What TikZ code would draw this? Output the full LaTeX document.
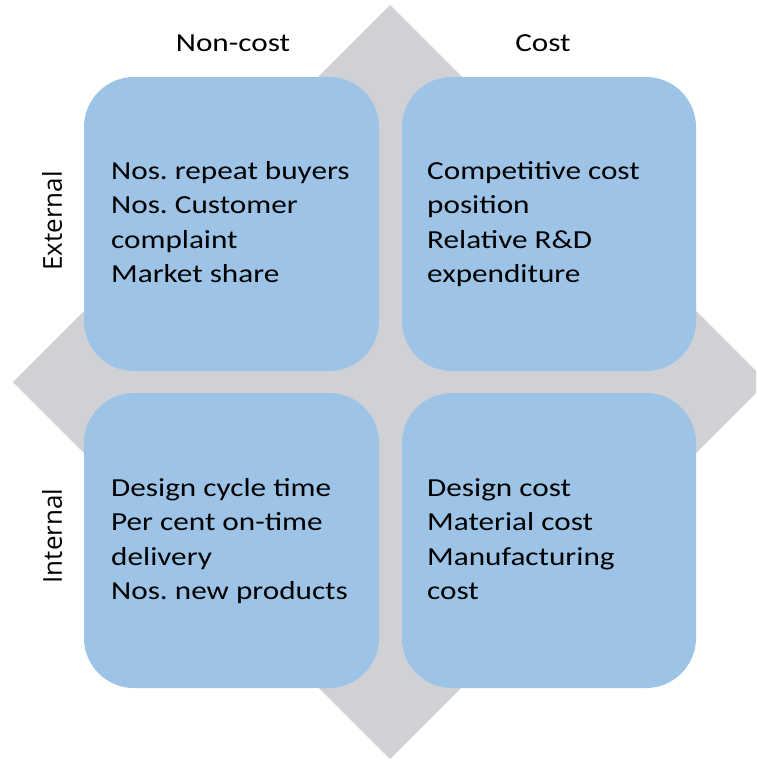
\documentclass[tikz,border=0pt]{standalone}
\usepackage{fontspec}
\setmainfont{Carlito}[FakeStretch=1.2]
\newfontfamily\sidefont{Open Sans}
\definecolor{diagray}{RGB}{208,209,213}
\definecolor{boxblue}{RGB}{157,195,230}
\frenchspacing
\begin{document}
\begin{tikzpicture}[x=1pt,y=-1pt,
  quad/.style={fill=boxblue,draw=none,rounded corners=50pt},
  body/.style={anchor=base west,align=left,inner sep=0pt,font=\fontsize{26}{34.5}\selectfont},
  head/.style={anchor=base,inner sep=0pt,font=\fontsize{26}{30}\selectfont},
  side/.style={rotate=90,inner sep=0pt,font=\sidefont\fontsize{26}{30}\selectfont}]
\useasboundingbox (0,0) rectangle (756,760);
\clip (0,0) rectangle (756,760);
\fill[diagray] (390,5) -- (767,382) -- (390,759) -- (13,382) -- cycle;
\fill[quad] (84,77) rectangle (379,371);
\fill[quad] (402,77) rectangle (696,371);
\fill[quad] (84,393) rectangle (379,688);
\fill[quad] (402,393) rectangle (696,688);
\node[head] (nc) at (233,52) {Non-cost};
\node[head] (c) at (543,52) {Cost};
\node[side] (ext) at (52,221) {External};
\node[side] (int) at (52,536) {Internal};
\node[body] (tl) at (111,282.5) {Nos. repeat buyers\\Nos. Customer\\complaint\\Market share};
\node[body] (tr) at (427,282.5) {Competitive cost\\position\\Relative R\&D\\expenditure};
\node[body] (bl) at (111,599.5) {Design cycle time\\Per cent on-time\\delivery\\Nos. new products};
\node[body] (br) at (427,599.5) {Design cost\\Material cost\\Manufacturing\\cost};
\end{tikzpicture}
\end{document}
